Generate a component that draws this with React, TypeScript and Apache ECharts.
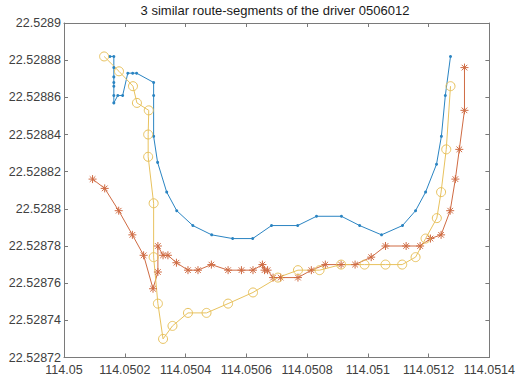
import React, { useEffect, useRef } from "react";
import * as echarts from "echarts";

const titleText = "3 similar route-segments of the driver 0506012";

const blueLon = [
  114.050151, 114.050164, 114.050164, 114.050164, 114.050164, 114.050164, 114.050164, 114.050164,
  114.050177, 114.050193, 114.05021, 114.050226, 114.050239, 114.050295, 114.050295, 114.050295,
  114.050308, 114.050338, 114.050371, 114.050424, 114.050486, 114.050555, 114.050621, 114.050683,
  114.050769, 114.050831, 114.050913, 114.050973, 114.051045, 114.051114, 114.051157, 114.05119,
  114.051226, 114.051242, 114.051255, 114.051272,
];
const blueLat = [
  22.528882, 22.528882, 22.528876, 22.528871, 22.528868, 22.528866, 22.528861, 22.528857,
  22.528861, 22.528861, 22.528873, 22.528873, 22.528873, 22.528868, 22.528861, 22.528839,
  22.528825, 22.528809, 22.528799, 22.528791, 22.528786, 22.528784, 22.528784, 22.528791,
  22.528791, 22.528796, 22.528796, 22.528791, 22.528786, 22.528791, 22.528799, 22.528809,
  22.528824, 22.528839, 22.528861, 22.528882,
];

const redLon = [
  114.050094, 114.050134, 114.05018, 114.050225, 114.050262, 114.050293, 114.050309, 114.050309,
  114.050326, 114.050342, 114.05037, 114.050408, 114.050441, 114.050485, 114.05054, 114.050584,
  114.050622, 114.050653, 114.05066, 114.05067, 114.050688, 114.050713, 114.05077, 114.050814,
  114.05086, 114.050912, 114.050958, 114.051011, 114.051058, 114.051126, 114.051172, 114.051206,
  114.051241, 114.051271, 114.051288, 114.051301, 114.051318, 114.051318,
];
const redLat = [
  22.528816, 22.528811, 22.528799, 22.528786, 22.528775, 22.528757, 22.528766, 22.52878,
  22.528775, 22.528775, 22.528771, 22.528767, 22.528767, 22.52877, 22.528767, 22.528767,
  22.528767, 22.52877, 22.528767, 22.528767, 22.528763, 22.528763, 22.528763, 22.528767,
  22.52877, 22.52877, 22.52877, 22.528774, 22.52878, 22.52878, 22.52878, 22.528784,
  22.528786, 22.528799, 22.528816, 22.528832, 22.528853, 22.528876,
];

const yellowLon = [
  114.050132, 114.050181, 114.050227, 114.05024, 114.050279, 114.050277, 114.050277, 114.050295,
  114.050295, 114.050309, 114.050326, 114.050357, 114.050408, 114.050469, 114.05054, 114.050622,
  114.050704, 114.05077, 114.050841, 114.050912, 114.050989, 114.051058, 114.051113, 114.051157,
  114.05119, 114.051227, 114.051241, 114.051258, 114.051272,
];
const yellowLat = [
  22.528882, 22.528874, 22.528866, 22.528857, 22.528853, 22.52884, 22.528828, 22.528803,
  22.528774, 22.528749, 22.52873, 22.528737, 22.528744, 22.528744, 22.528749, 22.528755,
  22.528763, 22.528767, 22.528767, 22.52877, 22.52877, 22.52877, 22.52877, 22.528774,
  22.528784, 22.528795, 22.528809, 22.528832, 22.528866,
];

const xMin = 114.05;
const xMax = 114.0514;
const xStep = 0.0002;
const yMin = 22.52872;
const yMax = 22.5289;
const yStep = 0.00002;

const BLUE = "#2a84c2";
const RED = "#cf6b43";
const YELLOW = "#e8c25e";

const zip = (a: number[], b: number[]) => a.map((v, i) => [v, b[i]]);

const fmt = (digits: number) => (v: number) => String(parseFloat(v.toFixed(digits)));

const asterisk =
  "path://M0,-1L0,1M-1,0L1,0M-0.7,-0.7L0.7,0.7M-0.7,0.7L0.7,-0.7";

export default function App() {
  const ref = useRef<HTMLDivElement>(null);
  useEffect(() => {
    if (!ref.current) return;
    const chart = echarts.init(ref.current, null, { renderer: "svg" });
    const axisColor = "#7a7a7a";
    const labelColor = "#404040";
    const font = "Liberation Sans, Arial, sans-serif";
    const baseAxis = {
      type: "value",
      scale: true,
      axisLine: { show: true, onZero: false, lineStyle: { color: axisColor, width: 1 } },
      axisTick: { show: true, inside: true, length: 4, lineStyle: { color: axisColor } },
      splitLine: { show: false },
    };
    chart.setOption({
      animation: false,
      backgroundColor: "#ffffff",
      textStyle: { fontFamily: font },
      grid: { left: 64, right: 28, top: 23, bottom: 25.5, containLabel: false },
      graphic: [
        {
          type: "text",
          x: 275,
          y: 4,
          style: {
            text: titleText,
            fontSize: 13,
            fontFamily: font,
            fill: "#1a1a1a",
            textAlign: "center",
          },
        },
      ],
      xAxis: [
        {
          ...baseAxis,
          min: xMin,
          max: xMax,
          interval: xStep,
          position: "bottom",
          axisLabel: { color: labelColor, fontSize: 12.5, margin: 6, formatter: fmt(4) },
        },
        {
          ...baseAxis,
          min: xMin,
          max: xMax,
          interval: xStep,
          position: "top",
          axisLabel: { show: false },
        },
      ],
      yAxis: [
        {
          ...baseAxis,
          min: yMin,
          max: yMax,
          interval: yStep,
          position: "left",
          axisLabel: { color: labelColor, fontSize: 12.5, margin: 3, formatter: fmt(5) },
        },
        {
          ...baseAxis,
          min: yMin,
          max: yMax,
          interval: yStep,
          position: "right",
          axisLabel: { show: false },
        },
      ],
      series: [
        {
          type: "line",
          data: zip(blueLon, blueLat),
          symbol: "circle",
          symbolSize: 3,
          showAllSymbol: true,
          lineStyle: { color: BLUE, width: 1 },
          itemStyle: { color: BLUE },
        },
        {
          type: "line",
          data: zip(redLon, redLat),
          symbol: asterisk,
          symbolSize: 8,
          showAllSymbol: true,
          lineStyle: { color: RED, width: 1 },
          itemStyle: { color: RED, borderColor: RED, borderWidth: 1 },
        },
        {
          type: "line",
          data: zip(yellowLon, yellowLat),
          symbol: "circle",
          symbolSize: 9,
          showAllSymbol: true,
          lineStyle: { color: YELLOW, width: 1 },
          itemStyle: { color: "rgba(255,255,255,0)", borderColor: YELLOW, borderWidth: 1 },
        },
      ],
    });
    return () => chart.dispose();
  }, []);
  return (
    <div
      ref={ref}
      style={{ position: "fixed", left: 0, top: 0, width: 518, height: 383, background: "#fff" }}
    />
  );
}
